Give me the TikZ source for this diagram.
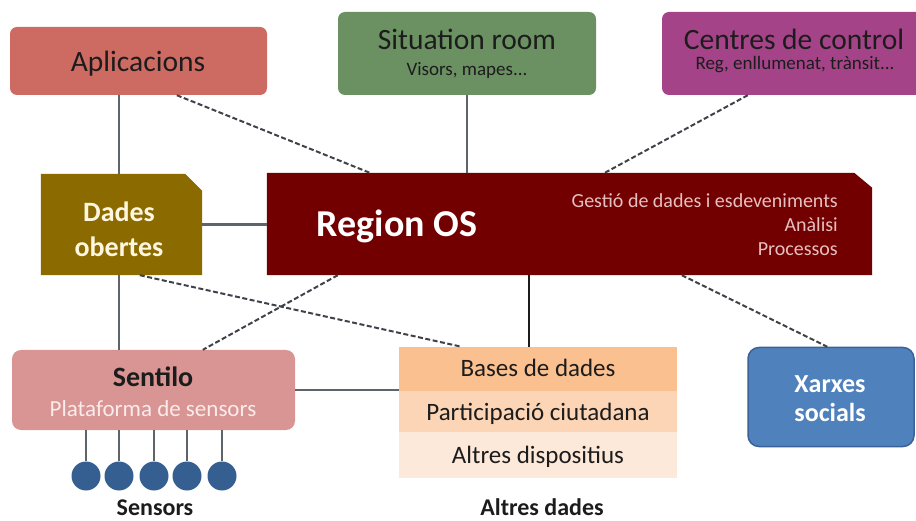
\documentclass[tikz,border=0pt]{standalone}
\usepackage{fontspec}
\setmainfont{Carlito}
\definecolor{aplic}{HTML}{CD6B63}
\definecolor{situ}{HTML}{6B9163}
\definecolor{centr}{HTML}{A54389}
\definecolor{dades}{HTML}{8B6A00}
\definecolor{region}{HTML}{730000}
\definecolor{sentilo}{HTML}{D99594}
\definecolor{rowa}{HTML}{FAC090}
\definecolor{rowb}{HTML}{FBD5B5}
\definecolor{rowc}{HTML}{FDE9D9}
\definecolor{xarxes}{HTML}{4F81BD}
\definecolor{xarxesb}{HTML}{3B6296}
\definecolor{sensorblue}{HTML}{355F91}
\definecolor{linegray}{HTML}{5F646B}
\definecolor{dashgray}{HTML}{3F4349}
\definecolor{regtext}{HTML}{E6C0C0}
\definecolor{darktext}{HTML}{1C1C1C}
\definecolor{platext}{HTML}{FBEBEB}
\definecolor{dadestext}{HTML}{FFF6E0}
\begin{document}
\begin{tikzpicture}[x=1pt,y=-1pt,
  holder/.style={inner sep=0pt, draw=none, fill=none},
  rbox/.style={inner sep=0pt, rounded corners=7pt, draw=none},
  txt/.style={anchor=base, inner sep=0pt},
  solidline/.style={draw=linegray, line width=2.2pt},
  darkline/.style={draw=darktext, line width=2.4pt},
  dashline/.style={draw=dashgray, line width=2pt, dash pattern=on 5pt off 2.5pt},
  sensor/.style={circle, fill=sensorblue, minimum size=29pt, inner sep=0pt},
  rowbox/.style={inner sep=0pt, minimum width=278pt},
  fT/.style={font=\fontsize{29.5}{34}\selectfont},
  fS/.style={font=\fontsize{19}{23}\selectfont},
  fR/.style={font=\fontsize{20}{24}\selectfont},
]
\useasboundingbox (0,0) rectangle (916,521);
\clip (0,0) rectangle (916,521);

% ---------- boxes ----------
\node[rbox, fill=aplic, minimum width=257pt, minimum height=68pt] (aplic) at (138.5,61) {};
\node[rbox, fill=situ, minimum width=258pt, minimum height=83pt] (situ) at (467,53.5) {};
\node[rbox, fill=centr, minimum width=278pt, minimum height=83pt] (centr) at (801,53.5) {};

\node[holder, minimum width=161pt, minimum height=101pt] (dades) at (121.5,224.5) {};
\fill[dades] (dades.south west) -- (dades.north west) -- ([xshift=-17pt]dades.north east)
  -- ([yshift=-17pt]dades.north east) -- (dades.south east) -- cycle;

\node[holder, minimum width=605pt, minimum height=102pt] (region) at (569.5,224) {};
\fill[region] (region.south west) -- (region.north west) -- ([xshift=-18pt]region.north east)
  -- ([yshift=-15pt]region.north east) -- (region.south east) -- cycle;

\node[rbox, rounded corners=9pt, fill=sentilo, minimum width=283pt, minimum height=80pt] (sentilo) at (153.5,390) {};

\node[holder, minimum width=278pt, minimum height=131pt] (bases) at (538,412.5) {};
\node[rowbox, fill=rowa, minimum height=44pt] (rowa) at (538,369) {};
\node[rowbox, fill=rowb, minimum height=41pt] (rowb) at (538,411.5) {};
\node[rowbox, fill=rowc, minimum height=46pt] (rowc) at (538,455) {};

\node[rbox, rounded corners=11pt, fill=xarxes, draw=xarxesb, line width=1.5pt,
  minimum width=166pt, minimum height=99pt] (xarxes) at (831,397) {};

% ---------- sensors ----------
\node[sensor] (s1) at (86,476) {};
\node[sensor] (s2) at (119,476) {};
\node[sensor] (s3) at (154,476) {};
\node[sensor] (s4) at (187,476) {};
\node[sensor] (s5) at (222,476) {};
\foreach \s in {s1,s2,s3,s4,s5}
  \draw[solidline] (\s.north) -- (\s.north |- sentilo.south);

% ---------- connectors ----------
\draw[solidline] ([xshift=-2.5pt]dades.north |- aplic.south) -- ([xshift=-2.5pt]dades.north);
\draw[dashline] ([xshift=167pt]aplic.south west) -- ([xshift=103pt]region.north west);
\draw[solidline] (situ.south) -- (situ.south |- region.north);
\draw[dashline] ([xshift=86pt]centr.south west) -- ([xshift=338pt]region.north west);
\draw[solidline] (dades.east) -- (dades.east -| region.west);
\draw[solidline] ([xshift=-2.5pt]dades.south) -- ([xshift=-2.5pt]dades.south |- sentilo.north);
\draw[dashline] ([xshift=99pt]dades.south west) -- ([xshift=63pt]bases.north west);
\draw[dashline] ([xshift=71pt]region.south west) -- ([xshift=191pt]sentilo.north west);
\draw[darkline] ([xshift=130pt]bases.north west) -- ([xshift=130pt]bases.north west |- region.south);
\draw[dashline] ([xshift=415pt]region.south west) -- ([xshift=80pt]xarxes.north west);
\draw[solidline] (sentilo.east) -- (sentilo.east -| bases.west);

% ---------- texts ----------
\node[txt, fT, text=darktext] (taplic) at (138,72) {Aplicacions};
\node[txt, fT, text=darktext] (tsitu) at (467,50) {Situation room};
\node[txt, fS, text=darktext] (tsitus) at (467,76) {Visors, mapes...};
\node[txt, fT, text=darktext] (tcentr) at (794,50) {Centres de control};
\node[txt, fS, text=darktext] (tcentrs) at (795,70) {Reg, enllumenat, trànsit...};

\node[txt, text=dadestext, font=\fontsize{28}{34}\selectfont\bfseries] (tdades1) at (119,222) {Dades};
\node[txt, text=dadestext, font=\fontsize{28}{34}\selectfont\bfseries] (tdades2) at (119,257) {obertes};

\node[txt, text=white, font=\fontsize{38}{44}\selectfont\bfseries] (tregion) at (397,237) {Region OS};
\node[txt, fR, text=regtext, anchor=base east] (tr1) at (838,208) {Gestió de dades i esdeveniments};
\node[txt, fR, text=regtext, anchor=base east] (tr2) at (838,232) {Anàlisi};
\node[txt, fR, text=regtext, anchor=base east] (tr3) at (838,256) {Processos};

\node[txt, text=darktext, font=\fontsize{28}{34}\selectfont\bfseries] (tsent) at (153,387) {Sentilo};
\node[txt, text=platext, font=\fontsize{23}{28}\selectfont] (tsents) at (153,416) {Plataforma de sensors};

\node[txt, text=darktext, font=\fontsize{25}{30}\selectfont] (trowa) at (538,377) {Bases de dades};
\node[txt, text=darktext, font=\fontsize{25}{30}\selectfont] (trowb) at (538,420) {Participació ciutadana};
\node[txt, text=darktext, font=\fontsize{25}{30}\selectfont] (trowc) at (538,463) {Altres dispositius};

\node[txt, text=white, font=\fontsize{26}{31}\selectfont\bfseries] (tx1) at (830,392) {Xarxes};
\node[txt, text=white, font=\fontsize{26}{31}\selectfont\bfseries] (tx2) at (830,421) {socials};

\node[txt, text=darktext, font=\fontsize{24}{29}\selectfont\bfseries] (tsensors) at (155,515) {Sensors};
\node[txt, text=darktext, font=\fontsize{24}{29}\selectfont\bfseries] (taltres) at (542,515) {Altres dades};
\end{tikzpicture}
\end{document}
